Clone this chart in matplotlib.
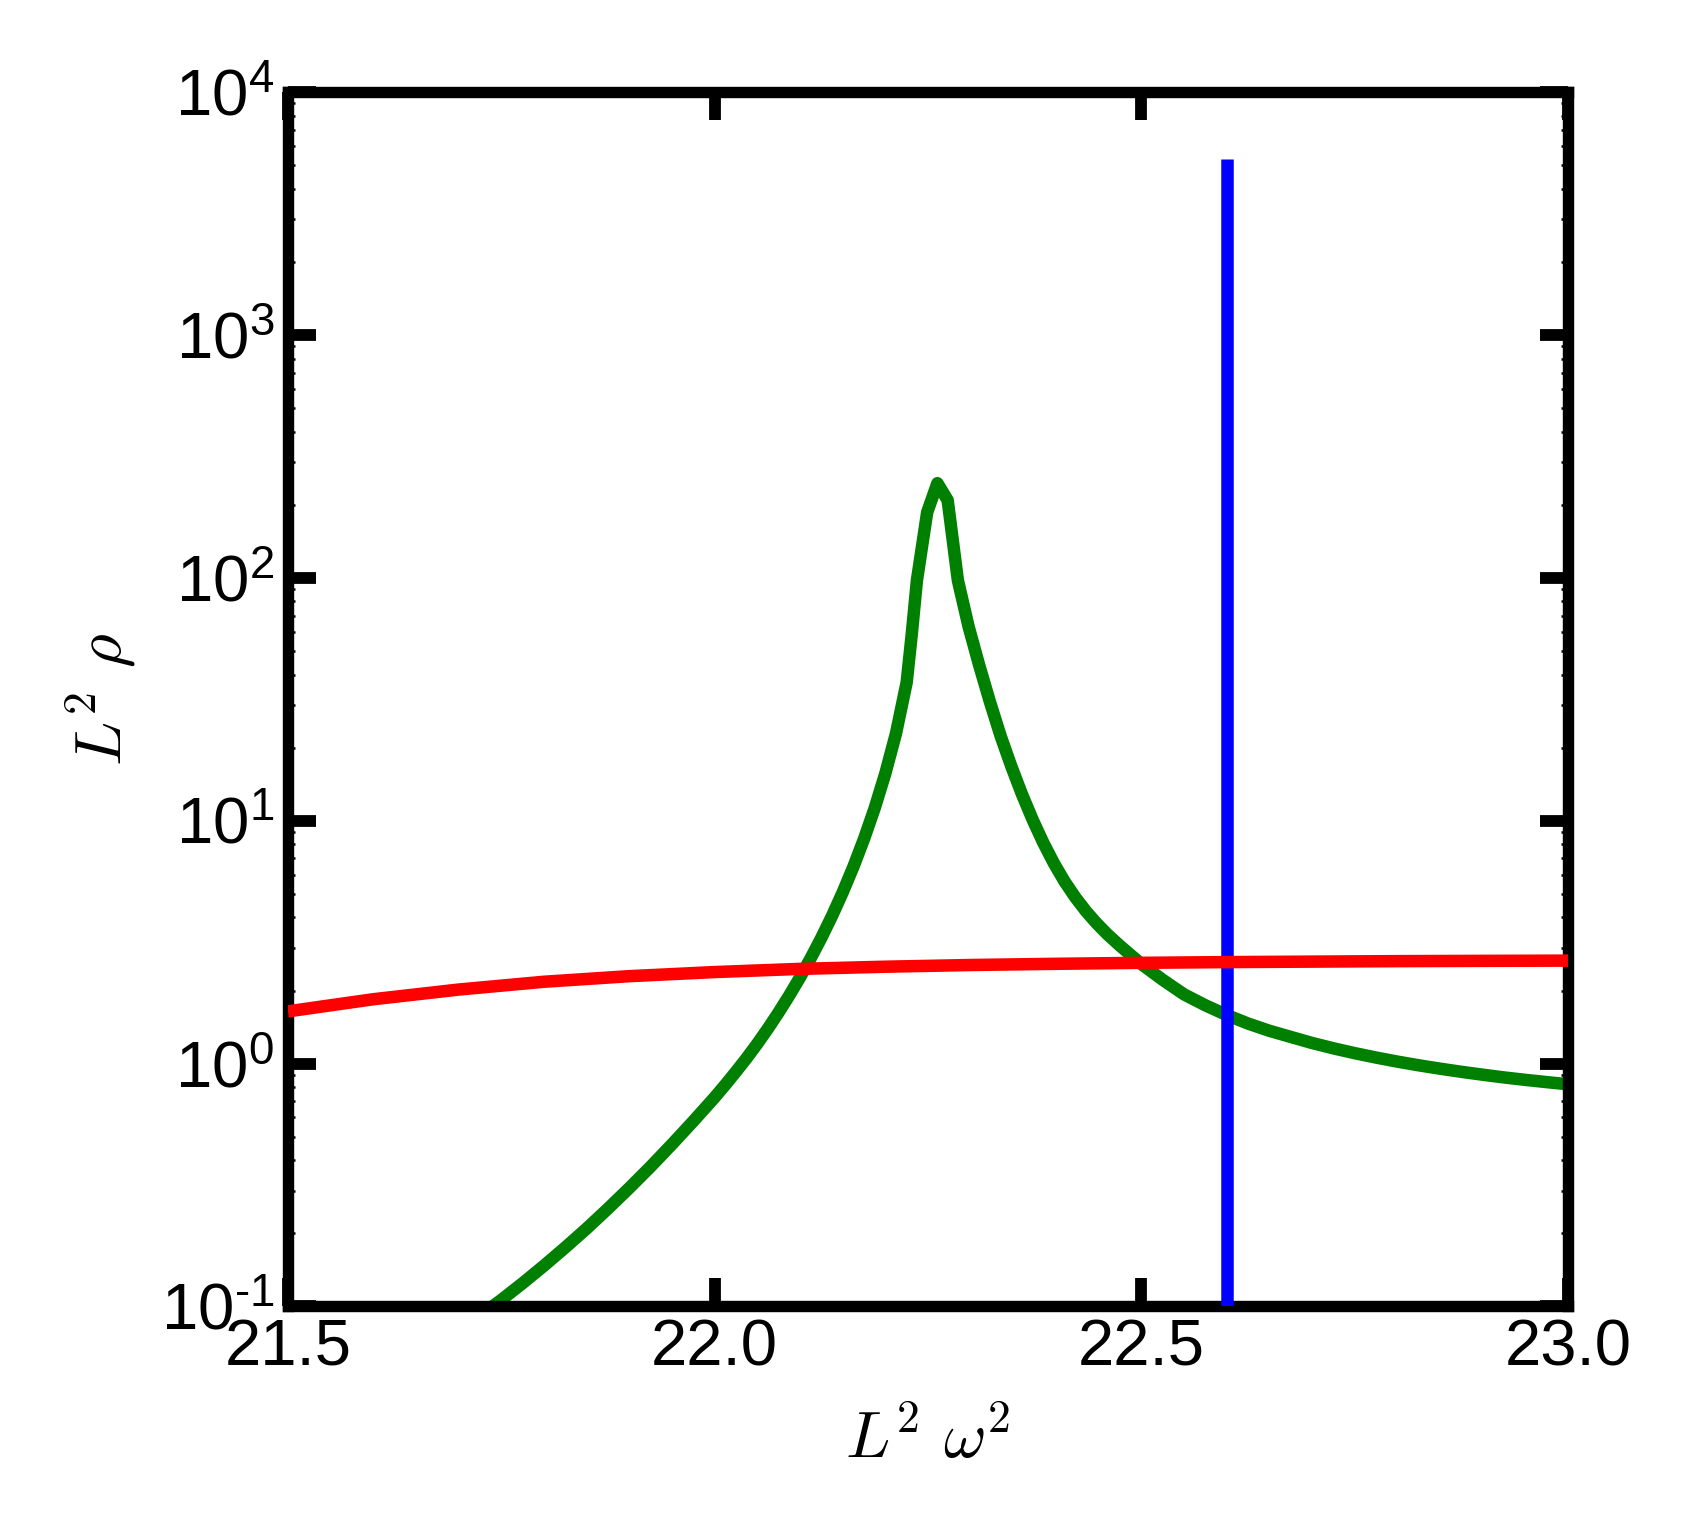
import matplotlib
matplotlib.use("Agg")
import matplotlib.pyplot as plt
from matplotlib.ticker import FixedLocator, FixedFormatter, LogLocator, NullLocator

# ---- data ----
green_x = [21.70, 21.725, 21.75, 21.775, 21.80, 21.825, 21.85, 21.875, 21.90,
           21.925, 21.95, 21.975, 22.00, 22.0125, 22.025, 22.0375, 22.05,
           22.0625, 22.075, 22.0875, 22.10, 22.1125, 22.125, 22.1375, 22.15,
           22.1625, 22.175, 22.1875, 22.20, 22.2125, 22.225, 22.231, 22.237,
           22.249, 22.261, 22.273, 22.285,
           22.2975, 22.31, 22.3225, 22.335, 22.3475, 22.36, 22.3725, 22.385,
           22.3975, 22.41, 22.4225, 22.435, 22.4475, 22.46, 22.475, 22.50,
           22.525, 22.55, 22.575, 22.60, 22.625, 22.65, 22.675, 22.70, 22.725,
           22.75, 22.775, 22.80, 22.825, 22.85, 22.875, 22.90, 22.925, 22.95,
           22.975, 23.00]
green_y = [0.0794, 0.0916, 0.1064, 0.1247, 0.1472, 0.1750, 0.2094, 0.2529, 0.3076,
           0.3767, 0.4656, 0.5794, 0.7261, 0.8185, 0.9268, 1.054, 1.208,
           1.396, 1.626, 1.910, 2.265, 2.716, 3.296, 4.055, 5.070,
           6.457, 8.414, 11.27, 15.67, 22.91, 37.15, 58.9, 97.7,
           186.2, 245.5, 208.9, 97.7,
           63.1, 43.65, 30.90, 22.39, 16.79, 12.88, 10.12, 8.128,
           6.683, 5.623, 4.842, 4.246, 3.784, 3.412, 3.055, 2.570,
           2.213, 1.928, 1.738, 1.585, 1.462, 1.365, 1.288, 1.216, 1.156,
           1.104, 1.059, 1.019, 0.984, 0.953, 0.925, 0.900, 0.877, 0.857,
           0.839, 0.822]

red_x = [21.5, 21.6, 21.7, 21.8, 21.9, 22.0, 22.1, 22.2, 22.3, 22.4, 22.5,
         22.6, 22.7, 22.8, 22.9, 23.0]
red_y = [1.641, 1.841, 2.018, 2.173, 2.291, 2.382, 2.455, 2.506, 2.547, 2.576,
         2.600, 2.618, 2.630, 2.642, 2.649, 2.655]

blue_x = [22.6, 22.6]
blue_y = [0.05, 5300.0]

xticks = [21.5, 22.0, 22.5, 23.0]
xticklabels = ["21.5", "22.0", "22.5", "23.0"]
yticks = [0.1, 1, 10, 100, 1000, 10000]
yticklabels = [r"$\mathdefault{10^{\text{-}1}}$", r"$\mathdefault{10^{0}}$",
               r"$\mathdefault{10^{1}}$", r"$\mathdefault{10^{2}}$",
               r"$\mathdefault{10^{3}}$", r"$\mathdefault{10^{4}}$"]
xlabel = r"$L^2\ \omega^2$"
ylabel = r"$L^2\ \rho$"

# ---- style ----
plt.rcParams["font.family"] = ["Liberation Sans", "DejaVu Sans"]
plt.rcParams["mathtext.fontset"] = "custom"
plt.rcParams["mathtext.rm"] = "Liberation Sans"
plt.rcParams["mathtext.it"] = "Liberation Sans:italic"
plt.rcParams["mathtext.bf"] = "Liberation Sans:bold"
plt.rcParams["axes.unicode_minus"] = False

fig = plt.figure(figsize=(16.87, 15.37), dpi=100)
ax = fig.add_axes([0.1707, 0.150, 0.7588, 0.790])

lw = 9.0
ax.plot(green_x, green_y, color="green", lw=lw, zorder=2,
        solid_capstyle="butt", solid_joinstyle="round")
ax.plot(blue_x, blue_y, color="blue", lw=lw, zorder=3, solid_capstyle="butt")
ax.plot(red_x, red_y, color="red", lw=lw, zorder=4, solid_capstyle="butt")

ax.set_yscale("log")
ax.set_xlim(21.5, 23.0)
ax.set_ylim(0.1, 1e4)

ax.xaxis.set_major_locator(FixedLocator(xticks))
ax.xaxis.set_major_formatter(FixedFormatter(xticklabels))
ax.xaxis.set_minor_locator(NullLocator())
ax.yaxis.set_major_locator(FixedLocator(yticks))
ax.yaxis.set_major_formatter(FixedFormatter(yticklabels))
ax.yaxis.set_minor_locator(LogLocator(base=10, subs=range(2, 10), numticks=20))

for sp in ax.spines.values():
    sp.set_linewidth(8.2)

ax.tick_params(which="major", direction="in", length=20, width=8.5,
               top=True, right=True, labelsize=47, pad=9)
ax.tick_params(axis="y", which="minor", direction="in", length=5, width=1.8,
               left=True, right=True)
ax.tick_params(axis="y", which="major", pad=10)

ax.set_xlabel(xlabel, fontsize=47, math_fontfamily="cm", labelpad=21)
ax.set_ylabel(ylabel, fontsize=47, math_fontfamily="cm", labelpad=16)

fig.savefig("out.png", dpi=100, facecolor="white")
